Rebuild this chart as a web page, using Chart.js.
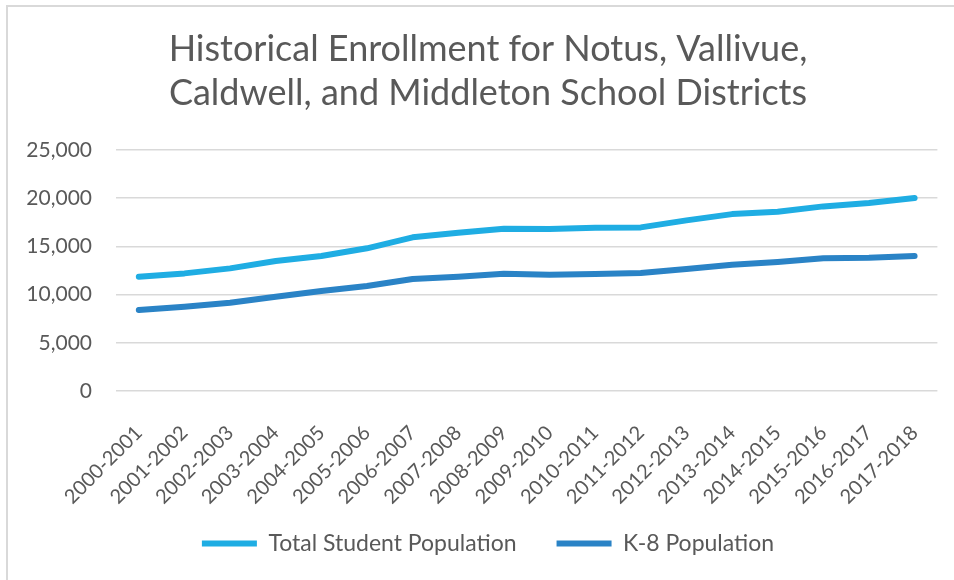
<!DOCTYPE html>
<html>
<head>
<meta charset="utf-8">
<script src="https://cdn.jsdelivr.net/npm/chart.js@4/dist/chart.umd.min.js"></script>
<style>
    html, body { margin: 0; padding: 0; background: #fff; }
    #wrap { position: relative; width: 954px; height: 580px; overflow: hidden; }
    #frame {
        position: absolute; left: 6px; top: 5px; right: 0; bottom: 0;
        border-left: 2px solid #d9d9d9; border-top: 2px solid #d9d9d9;
        pointer-events: none;
    }
</style>
</head>
<body>
<div id="wrap">
    <canvas id="enrollmentChart" width="954" height="580"></canvas>
    <div id="frame"></div>
</div>
<script>
// School years on the x axis
const schoolYears = [
    '2000-2001', '2001-2002', '2002-2003', '2003-2004', '2004-2005', '2005-2006',
    '2006-2007', '2007-2008', '2008-2009', '2009-2010', '2010-2011', '2011-2012',
    '2012-2013', '2013-2014', '2014-2015', '2015-2016', '2016-2017', '2017-2018'
];

// Enrollment
const totalPopulation = [
    11850, 12200, 12720, 13480, 14000, 14800, 15940, 16420, 16830,
    16800, 16940, 16970, 17700, 18350, 18600, 19150, 19500, 20010
];
const k8Population = [
    8400, 8740, 9160, 9780, 10370, 10890, 11610, 11850, 12170,
    12060, 12130, 12240, 12650, 13100, 13380, 13760, 13820, 14000
];

const yTicks = [0, 5000, 10000, 15000, 20000, 25000];

const titleLines = [
    'Historical Enrollment for Notus, Vallivue,',
    'Caldwell, and Middleton School Districts'
];

const textColor = '#595959';
const gridColor = '#d9d9d9';

Chart.defaults.font.family = 'Lato, "Open Sans", sans-serif';
Chart.defaults.color = textColor;

// Title and legend sit a bit right of the plot centre, legend a bit higher
const nudgeBoxes = {
    id: 'nudgeBoxes',
    afterLayout: function (chart) {
        const dx = 8;
        const dy = -15;
        chart.titleBlock.left += dx;
        chart.titleBlock.right += dx;
        chart.legend.left += dx;
        chart.legend.right += dx;
        chart.legend.top += dy;
        chart.legend.bottom += dy;
    }
};

const ctx = document.getElementById('enrollmentChart').getContext('2d');

new Chart(ctx, {
    type: 'line',
    data: {
        labels: schoolYears,
        datasets: [{
            label: 'Total Student Population',
            data: totalPopulation,
            borderColor: '#1fade3',
            backgroundColor: '#1fade3',
            borderWidth: 6,
            borderCapStyle: 'round',
            borderJoinStyle: 'round',
            pointRadius: 0,
            tension: 0,
            fill: false
        }, {
            label: 'K-8 Population',
            data: k8Population,
            borderColor: '#2a83c6',
            backgroundColor: '#2a83c6',
            borderWidth: 6,
            borderCapStyle: 'round',
            borderJoinStyle: 'round',
            pointRadius: 0,
            tension: 0,
            fill: false
        }]
    },
    plugins: [nudgeBoxes],
    options: {
        responsive: false,
        animation: false,
        clip: false,
        layout: {
            padding: { left: 22, right: 16, top: 0, bottom: 0 }
        },
        plugins: {
            title: {
                display: true,
                text: titleLines,
                color: textColor,
                font: { size: 36, weight: 'normal', lineHeight: '44px' },
                padding: { top: 27, bottom: 35 }
            },
            legend: {
                display: true,
                position: 'bottom',
                labels: {
                    usePointStyle: true,
                    pointStyle: 'line',
                    pointStyleWidth: 55,
                    padding: 40,
                    color: textColor,
                    font: { size: 23 }
                }
            },
            tooltip: { enabled: false }
        },
        scales: {
            x: {
                offset: true,
                afterFit: function (scale) {
                    scale.height = 116;
                },
                grid: { display: false },
                border: { display: false },
                ticks: {
                    minRotation: 45,
                    maxRotation: 45,
                    padding: 22,
                    color: textColor,
                    font: { size: 20 }
                }
            },
            y: {
                min: 0,
                max: 25000,
                afterFit: function (scale) {
                    scale.width = 94;
                },
                afterBuildTicks: function (scale) {
                    scale.ticks = yTicks.map(function (v) { return { value: v }; });
                },
                grid: {
                    color: gridColor,
                    lineWidth: 1.5,
                    drawTicks: false
                },
                border: { display: false },
                ticks: {
                    padding: 24,
                    color: textColor,
                    font: { size: 21 },
                    callback: function (value) {
                        return value.toLocaleString('en-US');
                    }
                }
            }
        }
    }
});
</script>
</body>
</html>
